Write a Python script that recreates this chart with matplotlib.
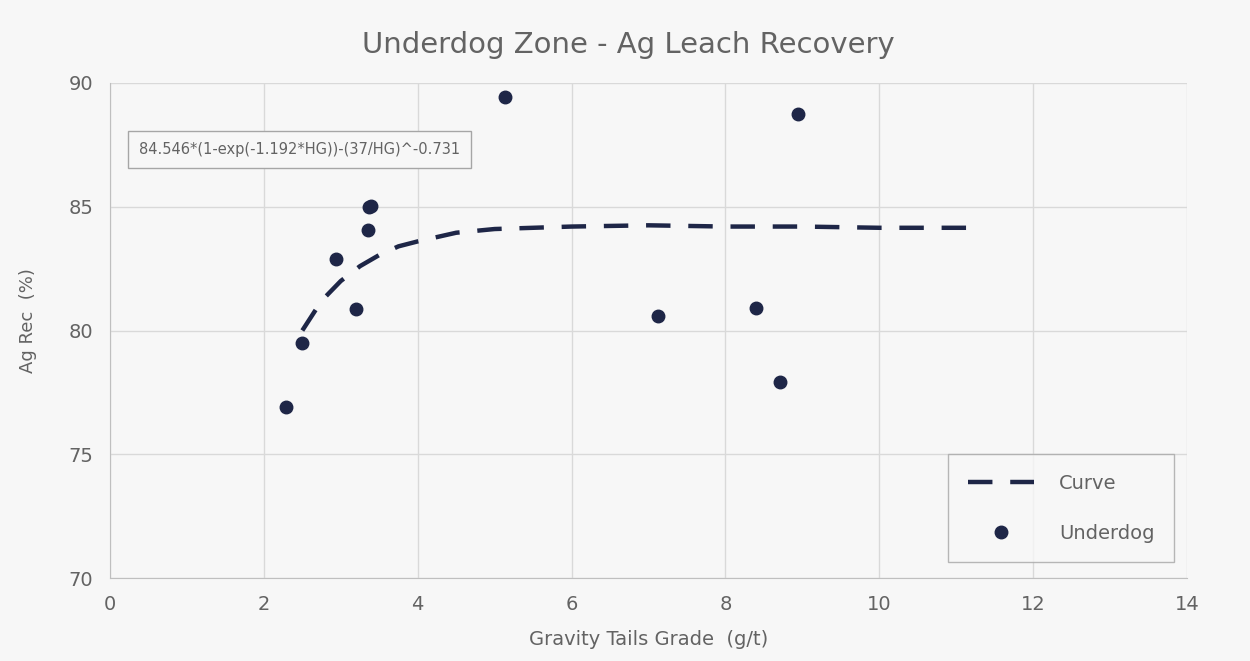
import numpy as np
import matplotlib.pyplot as plt

# scatter data
hg = [2.29, 2.50, 2.94, 3.20, 3.35, 3.37, 3.39, 5.13, 7.12, 8.40, 8.71, 8.94]
rec = [76.9, 79.5, 82.9, 80.85, 84.05, 85.0, 85.05, 89.45, 80.6, 80.9, 77.9, 88.75]

# fitted curve
curve_x = [2.5, 2.75, 3.0, 3.25, 3.5, 3.75, 4.0, 4.5, 5.0, 6.0, 7.0, 8.0, 9.0, 10.0, 11.0, 11.3]
curve_y = [80.0, 81.2, 82.0, 82.6, 83.05, 83.4, 83.6, 83.95, 84.1, 84.2, 84.25, 84.2, 84.2, 84.15, 84.15, 84.15]

fit_label = "84.546*(1-exp(-1.192*HG))-(37/HG)^-0.731"
navy = '#1e2647'
txt = '#636363'

plt.rcParams['font.family'] = ['DejaVu Sans']

fig = plt.figure(figsize=(12.5, 6.61), dpi=100)
fig.patch.set_facecolor('#f7f7f7')
ax = fig.add_axes([110 / 1250, 1 - 578 / 661, 1077 / 1250, 495 / 661])
ax.set_facecolor('#f7f7f7')

ax.plot(curve_x, curve_y, color=navy, lw=3.2, dashes=(5.5, 4), label='Curve', zorder=3)
ax.plot(hg, rec, 'o', color=navy, ms=9, label='Underdog', zorder=4)

ax.set_xlim(0, 14)
ax.set_ylim(70, 90)
ax.set_xticks(np.arange(0, 15, 2))
ax.set_yticks(np.arange(70, 91, 5))
ax.grid(True, color='#d9d9d9', lw=1)
ax.set_axisbelow(True)
for s in ['top', 'right']:
    ax.spines[s].set_visible(False)
for s in ['left', 'bottom']:
    ax.spines[s].set_color('#bfbfbf')
ax.tick_params(length=0, labelsize=14, colors=txt, pad=12)

fig.text(628 / 1250, 1 - 45 / 661, 'Underdog Zone - Ag Leach Recovery', fontsize=21,
         color=txt, ha='center', va='center')
ax.set_xlabel('Gravity Tails Grade  (g/t)', fontsize=14, color=txt)
ax.xaxis.set_label_coords(0.5, -0.105)
ax.set_ylabel('Ag Rec  (%)', fontsize=13, color=txt)
ax.yaxis.set_label_coords(-0.068, 0.52)

ax.text(0.027, 0.865, fit_label, transform=ax.transAxes, fontsize=10.5, color=txt,
        va='center', ha='left',
        bbox=dict(boxstyle='square,pad=0.75', fc='#f7f7f7', ec='#a6a6a6', lw=1))

leg = ax.legend(loc='lower right', bbox_to_anchor=(0.988, 0.032), borderaxespad=0,
                fontsize=14, frameon=True, fancybox=False, borderpad=1.0,
                labelspacing=1.6, handlelength=3.4, handletextpad=1.3)
leg.get_frame().set_edgecolor('#a6a6a6')
leg.get_frame().set_facecolor('#f7f7f7')
for t in leg.get_texts():
    t.set_color(txt)

fig.savefig('out.png', dpi=100, facecolor=fig.get_facecolor())
